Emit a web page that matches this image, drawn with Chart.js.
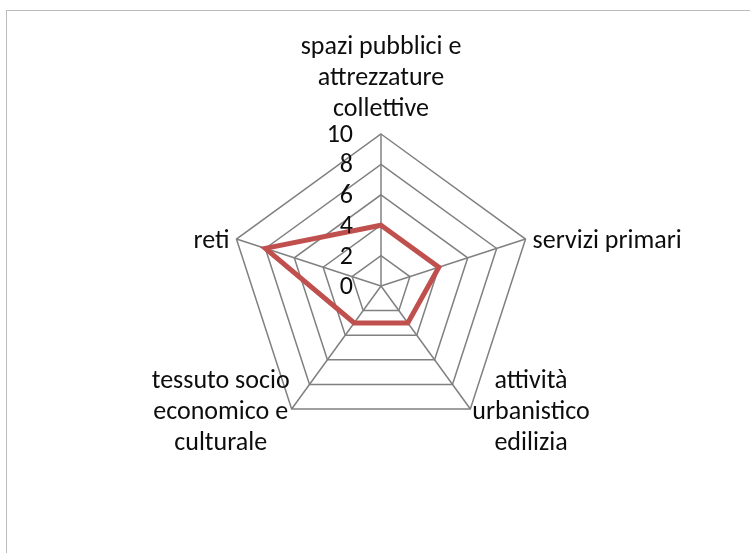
<!DOCTYPE html>
<html><head><meta charset="utf-8">
<script src="https://cdn.jsdelivr.net/npm/chart.js@4/dist/chart.umd.min.js"></script>
<style>
html,body{margin:0;padding:0;background:#fff;width:750px;height:553px;overflow:hidden}
#frame{position:absolute;left:6px;top:10px;width:780px;height:600px;border-left:1.5px solid #bcbcbc;border-top:1.5px solid #bcbcbc}
#c{position:absolute;left:0;top:0}
</style></head><body>
<div id="frame"></div>
<canvas id="c" width="750" height="553"></canvas>
<script>
// ---- data ----
const categories = [
  ["spazi pubblici e", "attrezzature", "collettive"],
  ["servizi primari"],
  ["attività", "urbanistico", "edilizia"],
  ["tessuto socio", "economico e", "culturale"],
  ["reti"]
];
const seriesValues = [4, 4, 3, 3, 8];
const tickLabels = [0, 2, 4, 6, 8, 10];

// ---- style ----
const FONT = '26px Carlito, Lato, "Open Sans", sans-serif';
const LINE_H = 31;
const GRID = '#808080';

const labelPlugin = {
  id: 'excelLabels',
  afterDraw(chart) {
    const s = chart.scales.r;
    const ctx = chart.ctx;
    ctx.save();
    ctx.font = FONT;
    ctx.fillStyle = '#0d0d0d';
    ctx.textBaseline = 'middle';
    // tick labels, right-aligned left of the vertical axis
    ctx.textAlign = 'right';
    s.ticks.forEach(t => {
      const y = s.yCenter - s.getDistanceFromCenterForValue(t.value);
      ctx.fillText(String(t.value), s.xCenter - 28, y + 1.5);
    });
    // point labels
    chart.data.labels.forEach((lab, i) => {
      const lines = Array.isArray(lab) ? lab : [lab];
      const p = s.getPointPosition(i, s.drawingArea);
      const a = s.getIndexAngle(i);
      const sin = Math.sin(a), cos = Math.cos(a);
      const w = Math.max(...lines.map(l => ctx.measureText(l).width));
      const n = lines.length;
      let cx, firstY;
      if (Math.abs(sin) < 0.01) {
        cx = p.x;
        firstY = p.y - 25 - LINE_H * (n - 1);
      } else {
        const gap = Math.abs(cos) < 0.5 ? 7 : 2;
        cx = sin > 0 ? p.x + gap + w / 2 : p.x - gap - w / 2;
        const cy = p.y + (Math.abs(cos) < 0.5 ? 2 : 4);
        firstY = cy - LINE_H * (n - 1) / 2;
      }
      ctx.textAlign = 'center';
      lines.forEach((l, k) => ctx.fillText(l, cx, firstY + k * LINE_H));
    });
    ctx.restore();
  }
};

new Chart(document.getElementById('c'), {
  type: 'radar',
  data: {
    labels: categories,
    datasets: [{
      data: seriesValues,
      borderColor: '#C0504D',
      borderWidth: 5,
      backgroundColor: 'rgba(0,0,0,0)',
      fill: false,
      pointRadius: 0,
      pointHoverRadius: 0,
      borderJoinStyle: 'miter',
      tension: 0
    }]
  },
  options: {
    responsive: false,
    animation: false,
    events: [],
    plugins: { legend: { display: false }, tooltip: { enabled: false } },
    scales: {
      r: {
        min: tickLabels[0],
        max: tickLabels[tickLabels.length - 1],
        ticks: { display: false, stepSize: tickLabels[1] - tickLabels[0] },
        grid: { color: GRID, lineWidth: 1.5 },
        angleLines: { color: GRID, lineWidth: 1.5 },
        pointLabels: { display: false },
        afterFit(scale) {
          scale.xCenter = 381;
          scale.yCenter = 286;
          scale.drawingArea = 152;
        }
      }
    }
  },
  plugins: [labelPlugin]
});
</script>
</body></html>
